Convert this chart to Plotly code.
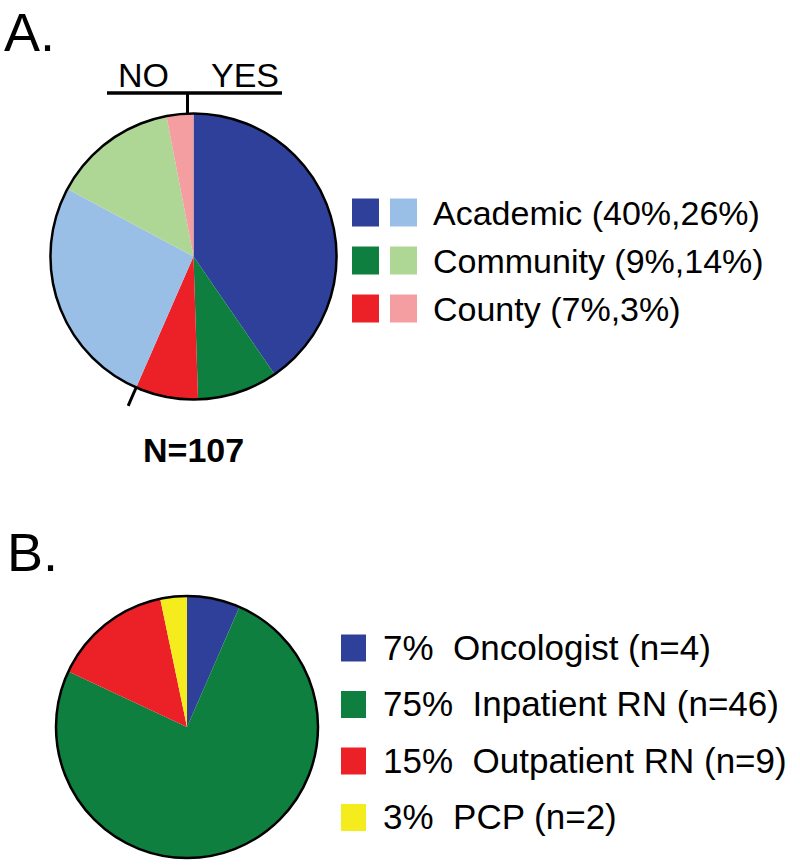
import math
import plotly.graph_objects as go

W, H = 800, 867

# ---- data ----
a_labels = ["Academic (YES)", "Community (YES)", "County (YES)",
            "Academic (NO)", "Community (NO)", "County (NO)"]
a_values = [40, 9, 7, 26, 14, 3]
a_colors = ["#2E4099", "#0E7F3E", "#EC2027", "#99BFE6", "#AED796", "#F49EA2"]
a_legend = ["Academic (40%,26%)", "Community (9%,14%)", "County (7%,3%)"]
a_legend_colors = [("#2E4099", "#99BFE6"), ("#0E7F3E", "#AED796"), ("#EC2027", "#F49EA2")]
a_n = "N=107"

b_labels = ["Oncologist", "Inpatient RN", "Outpatient RN", "PCP"]
b_values = [4, 46, 9, 2]
b_pct = ["7%", "75%", "15%", "3%"]
b_colors = ["#2E4099", "#0E7F3E", "#EC2027", "#F4EC1D"]

FONT = "Arial, Liberation Sans, sans-serif"

# pie geometry (pixels)
A_CX, A_CY, A_R = 193.5, 256.5, 143
B_CX, B_CY, B_R = 187, 727, 131


def dom(cx, cy, r):
    return dict(x=[(cx - r) / W, (cx + r) / W],
                y=[1 - (cy + r) / H, 1 - (cy - r) / H])


fig = go.Figure()
for labels, values, colors, (cx, cy, r) in [
    (a_labels, a_values, a_colors, (A_CX, A_CY, A_R)),
    (b_labels, b_values, b_colors, (B_CX, B_CY, B_R)),
]:
    fig.add_trace(go.Pie(labels=labels, values=values, sort=False,
                         direction="clockwise", rotation=0,
                         marker=dict(colors=colors, line=dict(width=0)),
                         textinfo="none", hoverinfo="label+value",
                         showlegend=False, domain=dom(cx, cy, r)))
    # outline circle
    fig.add_trace(go.Pie(labels=["outline"], values=[1], sort=False,
                         marker=dict(colors=["rgba(0,0,0,0)"], line=dict(color="black", width=2.5)),
                         textinfo="none", hoverinfo="skip", showlegend=False,
                         domain=dom(cx, cy, r)))

shapes = []
ann = []

def text(x, y, s, size, xanchor="left", yanchor="middle", bold=False):
    ann.append(dict(x=x, y=y, xref="x", yref="y", text=f"<b>{s}</b>" if bold else s,
                    showarrow=False, xanchor=xanchor, yanchor=yanchor,
                    font=dict(family=FONT, size=size, color="black")))

# panel letters
text(2, 0, "A.", 54, yanchor="top")
text(5, 552, "B.", 54)

# NO / YES bracket
text(143, 75, "NO", 34, xanchor="center")
text(245, 75, "YES", 34, xanchor="center")
shapes.append(dict(type="line", xref="x", yref="y", x0=107, x1=282, y0=93, y1=93,
                   line=dict(color="black", width=3.5)))
shapes.append(dict(type="line", xref="x", yref="y", x0=A_CX - 6, x1=A_CX - 6, y0=93, y1=A_CY - A_R,
                   line=dict(color="black", width=3)))
# tick at end of YES slices
yes_frac = sum(a_values[:3]) / sum(a_values)
ang = 2 * math.pi * yes_frac
r0, r1 = A_R, A_R + 20
shapes.append(dict(type="line", xref="x", yref="y",
                   x0=A_CX + r0 * math.sin(ang), y0=A_CY - r0 * math.cos(ang),
                   x1=A_CX + r1 * math.sin(ang), y1=A_CY - r1 * math.cos(ang),
                   line=dict(color="black", width=3)))

text(A_CX, 450, a_n, 34, xanchor="center", bold=True)

# legend A
for i, (lab, (c1, c2)) in enumerate(zip(a_legend, a_legend_colors)):
    yc = 212.5 + i * 48
    for x0, c in [(352, c1), (390, c2)]:
        shapes.append(dict(type="rect", xref="x", yref="y", x0=x0, x1=x0 + 27,
                           y0=yc - 14, y1=yc + 14, fillcolor=c, line=dict(width=0)))
    text(431, yc, lab, 34)

# legend B
for i, (lab, v, p, c) in enumerate(zip(b_labels, b_values, b_pct, b_colors)):
    yc = 648 + i * 56.5
    shapes.append(dict(type="rect", xref="x", yref="y", x0=341, x1=366,
                       y0=yc - 13.5, y1=yc + 13.5, fillcolor=c, line=dict(width=0)))
    text(381, yc - 1, f"{p}&nbsp;&nbsp;{lab} (n={v})", 35)

fig.update_layout(
    width=W, height=H, margin=dict(l=0, r=0, t=0, b=0),
    paper_bgcolor="white", plot_bgcolor="rgba(0,0,0,0)",
    xaxis=dict(range=[0, W], visible=False, fixedrange=True),
    yaxis=dict(range=[H, 0], visible=False, fixedrange=True),
    shapes=shapes, annotations=ann,
)
fig.write_html("out.html", config={"displayModeBar": False},
               post_script="document.body.style.margin='0px';")
